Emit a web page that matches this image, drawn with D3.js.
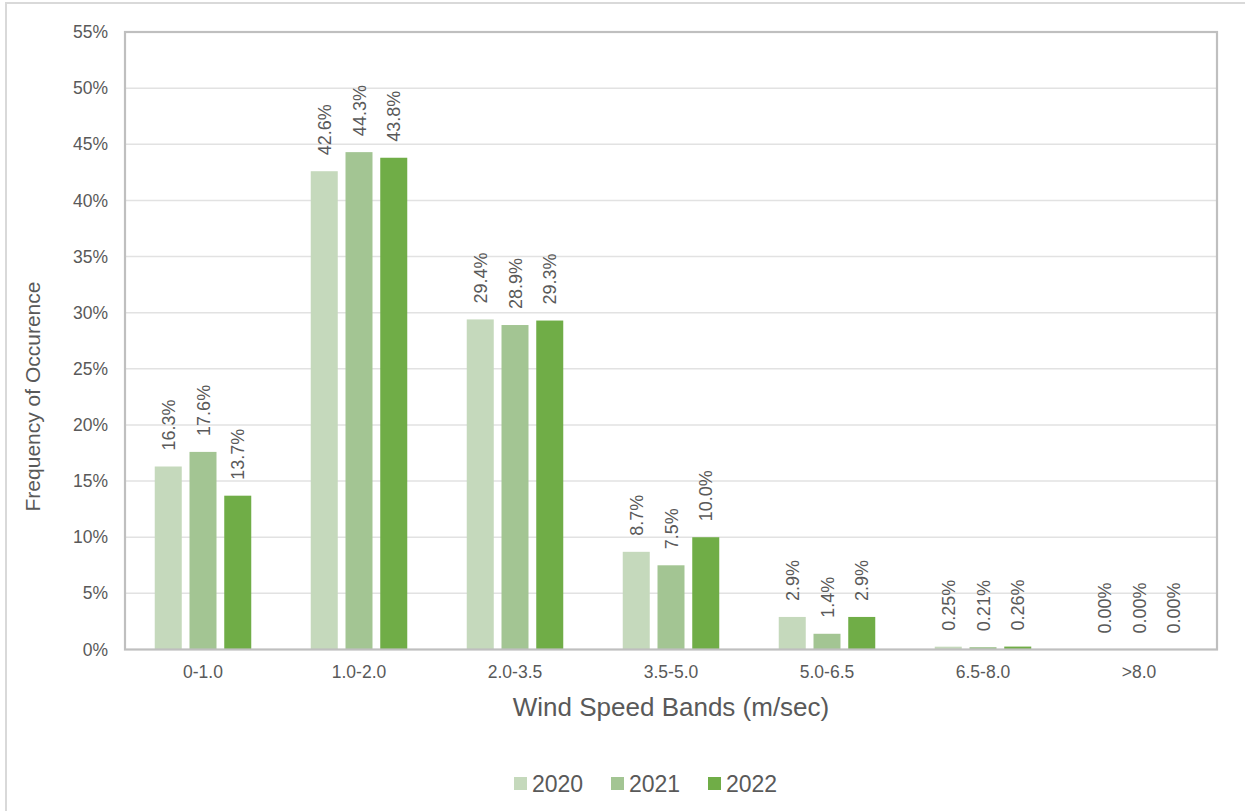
<!DOCTYPE html>
<html>
<head>
<meta charset="utf-8">
<script src="https://cdn.jsdelivr.net/npm/d3@7"></script>
<style>
  html, body { margin: 0; padding: 0; background: #fff; }
  svg { display: block; font-family: "Liberation Sans", Arial, sans-serif; }
</style>
</head>
<body>
<svg id="chart" width="1245" height="811"></svg>
<script>
// Wind speed band frequencies (%), by year
const bands = ["0-1.0", "1.0-2.0", "2.0-3.5", "3.5-5.0", "5.0-6.5", "6.5-8.0", ">8.0"];
const years = ["2020", "2021", "2022"];
const freq2020 = [16.3, 42.6, 29.4, 8.7, 2.9, 0.25, 0.00];
const freq2021 = [17.6, 44.3, 28.9, 7.5, 1.4, 0.21, 0.00];
const freq2022 = [13.7, 43.8, 29.3, 10.0, 2.9, 0.26, 0.00];
const yTicks = [0, 5, 10, 15, 20, 25, 30, 35, 40, 45, 50, 55];
const colors = ["#c5d9bc", "#a3c593", "#70ad47"];

const series = [freq2020, freq2021, freq2022];
const svg = d3.select("#chart");
const textColor = "#595959";

// outer chart frame
svg.append("rect")
  .attr("x", 6).attr("y", 3)
  .attr("width", 1260).attr("height", 830)
  .attr("fill", "none").attr("stroke", "#d9d9d9").attr("stroke-width", 2);

const plot = { left: 125, top: 32, right: 1217, bottom: 649.5 };

const x = d3.scaleBand().domain(bands).range([plot.left, plot.right]).paddingInner(0).paddingOuter(0);
const xs = d3.scaleBand().domain(years).range([0, x.bandwidth()]).paddingInner(0.223).paddingOuter(0.856);
const y = d3.scaleLinear().domain([0, 55]).range([plot.bottom, plot.top]);

// horizontal gridlines
svg.append("g")
  .selectAll("line").data(yTicks.filter(t => t > 0 && t < 55)).join("line")
  .attr("x1", plot.left).attr("x2", plot.right)
  .attr("y1", d => y(d)).attr("y2", d => y(d))
  .attr("stroke", "#e2e2e2").attr("stroke-width", 1.5);

// y-axis labels
const yAxis = d3.axisLeft(y).tickValues(yTicks).tickFormat(d => d + "%").tickSize(0).tickPadding(17);
const yg = svg.append("g").attr("transform", `translate(${plot.left},0)`).call(yAxis);
yg.select(".domain").remove();
yg.selectAll("text").attr("fill", textColor).style("font-size", "17.5px");

// bars and value labels
const groups = svg.append("g").selectAll("g").data(bands).join("g")
  .attr("transform", d => `translate(${x(d)},0)`);

years.forEach((yr, si) => {
  groups.append("rect")
    .attr("x", xs(yr))
    .attr("width", xs.bandwidth())
    .attr("y", (d, i) => y(series[si][i]))
    .attr("height", (d, i) => y(0) - y(series[si][i]))
    .attr("fill", colors[si]);

  groups.append("text")
    .attr("transform", (d, i) => `translate(${xs(yr) + xs.bandwidth() / 2 + 6.5},${y(series[si][i]) - 16}) rotate(-90)`)
    .attr("text-anchor", "start")
    .attr("fill", textColor)
    .style("font-size", "18px")
    .text((d, i) => {
      const v = series[si][i];
      return (v < 1 ? v.toFixed(2) : v.toFixed(1)) + "%";
    });
});

// plot area frame
svg.append("rect")
  .attr("x", plot.left).attr("y", plot.top)
  .attr("width", plot.right - plot.left).attr("height", plot.bottom - plot.top)
  .attr("fill", "none").attr("stroke", "#bfbfbf").attr("stroke-width", 2.2);

// x-axis labels
const xAxis = d3.axisBottom(x).tickSize(0).tickPadding(16);
const xg = svg.append("g").attr("transform", `translate(0,${plot.bottom})`).call(xAxis);
xg.select(".domain").remove();
xg.selectAll("text").attr("fill", textColor).style("font-size", "17.5px");

// axis titles
svg.append("text")
  .attr("x", (plot.left + plot.right) / 2).attr("y", 716)
  .attr("text-anchor", "middle").attr("fill", textColor)
  .style("font-size", "26px")
  .text("Wind Speed Bands (m/sec)");

svg.append("text")
  .attr("transform", "translate(40,396.5) rotate(-90)")
  .attr("text-anchor", "middle").attr("fill", textColor)
  .style("font-size", "21px")
  .text("Frequency of Occurence");

// legend
const legendX = [514, 611, 708];
const legend = svg.append("g").selectAll("g").data(years).join("g")
  .attr("transform", (d, i) => `translate(${legendX[i]},777)`);
legend.append("rect").attr("width", 13).attr("height", 13).attr("fill", (d, i) => colors[i]);
legend.append("text")
  .attr("x", 18).attr("y", 14.5)
  .attr("fill", textColor)
  .style("font-size", "23px")
  .text(d => d);
</script>
</body>
</html>
